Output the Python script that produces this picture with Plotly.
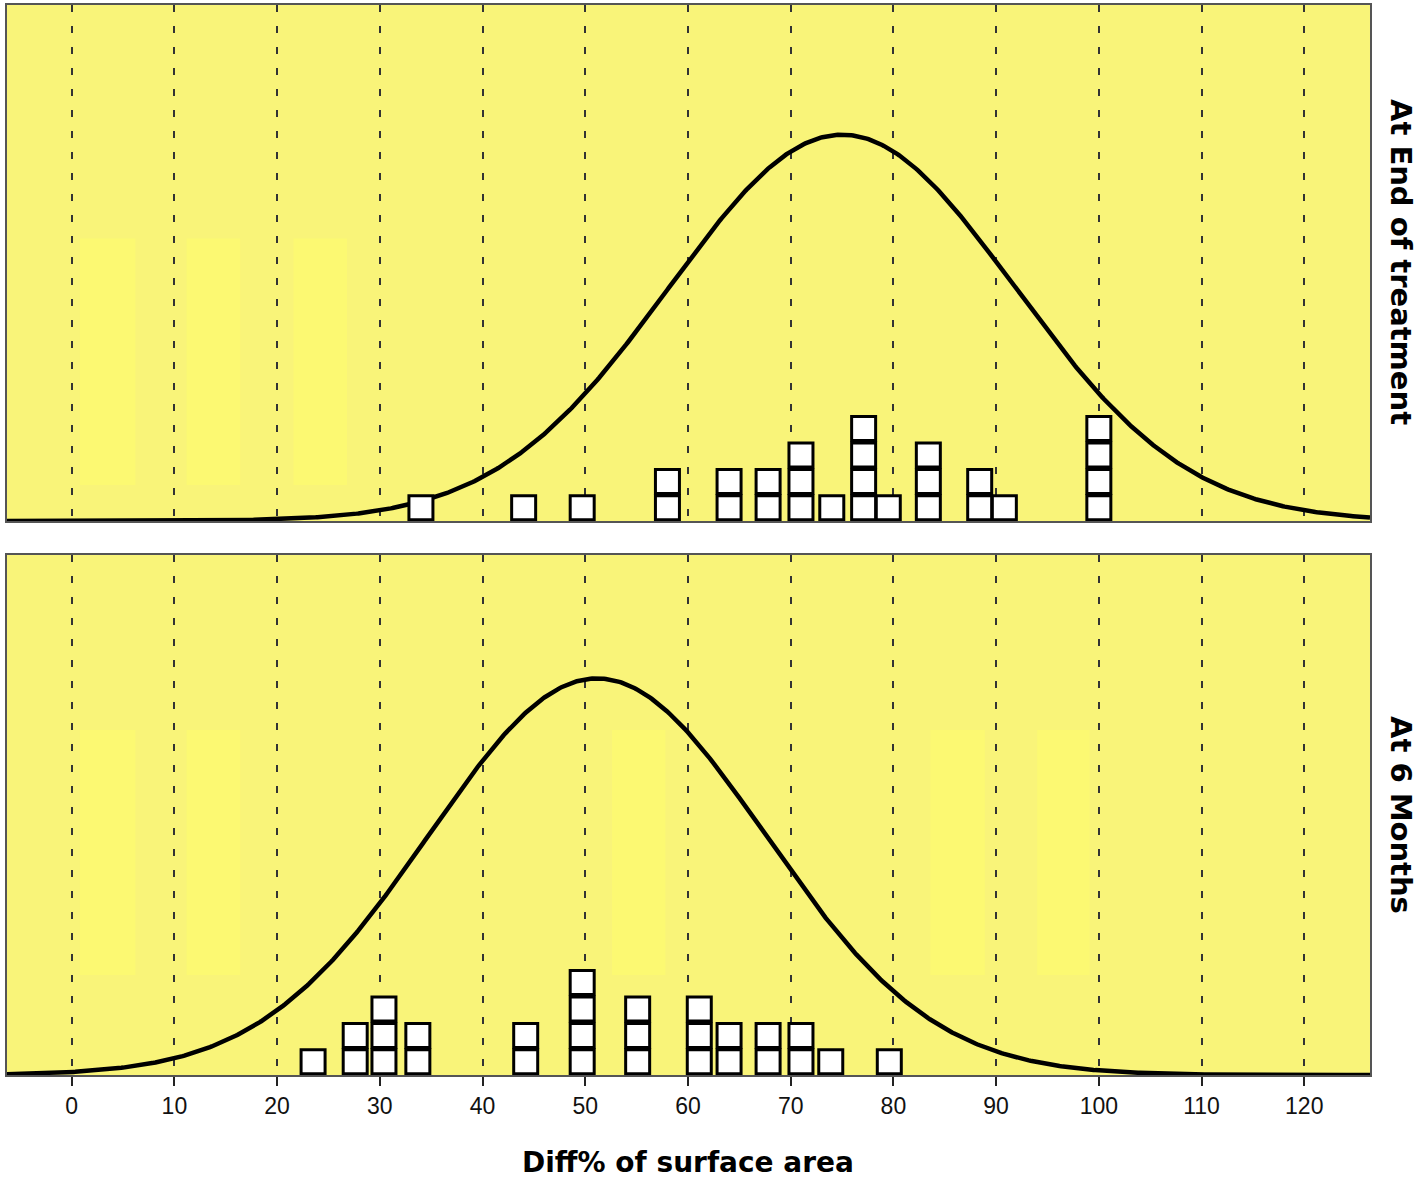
import numpy as np
import plotly.graph_objects as go

# ---------------- data ----------------
# Top panel: "At End of treatment" (value, stacked count)
end_values = [34, 44, 49.7, 58, 64, 67.8, 71, 74, 77.1, 79.5, 83.4, 88.4, 90.8, 100]
end_counts = [1, 1, 1, 2, 2, 2, 3, 1, 4, 1, 3, 2, 1, 4]

# Bottom panel: "At 6 Months"
m6_values = [23.5, 27.6, 30.4, 33.7, 44.2, 49.7, 55.1, 61.1, 64, 67.8, 71, 73.9, 79.6]
m6_counts = [1, 2, 3, 2, 2, 4, 3, 3, 2, 2, 2, 1, 1]

tick_vals = list(range(0, 130, 10))
panel_labels = ["At End of treatment", "At 6 Months"]
x_title = "Diff% of surface area"

# ---------------- style ----------------
BG = "#F9F479"
PATCH = "#FCF972"
FONT = "DejaVu Sans"
TICKFONT = "Liberation Sans"
CURVE_SCALE = 22.0
X_RANGE = [-6.3, 126.4]
Y_TOP = 19.55
Y_BOT = 19.7


def stack(values, counts):
    xs, ys = [], []
    for v, c in zip(values, counts):
        for k in range(c):
            xs.append(v)
            ys.append(k + 0.5)
    return xs, ys


def normal_curve(values, counts):
    data = np.repeat(np.array(values, float), counts)
    mu, sd, n = data.mean(), data.std(ddof=1), len(data)
    xx = np.linspace(X_RANGE[0], X_RANGE[1], 800)
    yy = n * CURVE_SCALE * np.exp(-0.5 * ((xx - mu) / sd) ** 2) / (sd * np.sqrt(2 * np.pi))
    return xx, yy


fig = go.Figure()

for vals, cnts, xa, ya in [(end_values, end_counts, "x", "y"), (m6_values, m6_counts, "x2", "y2")]:
    cx, cy = normal_curve(vals, cnts)
    fig.add_trace(go.Scatter(x=cx, y=cy, mode="lines", line=dict(color="black", width=4.5),
                             xaxis=xa, yaxis=ya, showlegend=False, hoverinfo="skip"))
    sx, sy = stack(vals, cnts)
    fig.add_trace(go.Scatter(x=sx, y=sy, mode="markers",
                             marker=dict(symbol="square", size=24, color="white",
                                         line=dict(color="black", width=3)),
                             xaxis=xa, yaxis=ya, showlegend=False, cliponaxis=False))

x_dom = [7 / 1418, 1370 / 1418]
top_dom = [1 - 521 / 1180, 1 - 5 / 1180]
bot_dom = [1 - 1075 / 1180, 1 - 555 / 1180]

common_x = dict(range=X_RANGE, domain=x_dom, tickvals=tick_vals, showgrid=True,
                gridcolor="#333333", griddash="7px,14px", gridwidth=1.5,
                showline=True, linecolor="#555555", linewidth=2, mirror=True,
                zeroline=False)
common_y = dict(showgrid=False, zeroline=False, showticklabels=False, ticks="",
                showline=True, linecolor="#555555", linewidth=2, mirror=True)

fig.update_layout(
    width=1418, height=1180,
    margin=dict(l=0, r=0, t=0, b=0),
    paper_bgcolor="white",
    plot_bgcolor=BG,
    xaxis=dict(**common_x, anchor="y", showticklabels=False, ticks=""),
    yaxis=dict(**common_y, range=[0, Y_TOP], domain=top_dom, anchor="x"),
    xaxis2=dict(**common_x, anchor="y2", ticks="outside", ticklen=9, tickwidth=2,
                tickcolor="#222", tickfont=dict(family=TICKFONT, size=23, color="#111")),
    yaxis2=dict(**common_y, range=[0, Y_BOT], domain=bot_dom, anchor="x2"),
)

# faint lighter patches visible in the background of the original
patches = [
    ("x", "y", [(0.8, 6.2), (11.2, 16.4), (21.6, 26.8)], (1.36, 10.7)),
    ("x2", "y2", [(0.8, 6.2), (11.2, 16.4), (52.6, 57.8), (83.6, 88.9), (94.0, 99.1)], (3.79, 13.07)),
]
for xr, yr, xs_, (y0, y1) in patches:
    for (x0, x1) in xs_:
        fig.add_shape(type="rect", xref=xr, yref=yr, x0=x0, x1=x1, y0=y0, y1=y1,
                      fillcolor=PATCH, line=dict(width=0), layer="below")

fig.add_annotation(text=x_title, xref="paper", yref="paper", x=688 / 1418, y=1 - 1162 / 1180,
                   showarrow=False, xanchor="center", yanchor="middle",
                   font=dict(family=FONT, size=28, color="black", weight="bold"))
for label, yc in zip(panel_labels, [1 - 262 / 1180, 1 - 815 / 1180]):
    fig.add_annotation(text=label, xref="paper", yref="paper", x=1401 / 1418, y=yc,
                       showarrow=False, textangle=90, xanchor="center", yanchor="middle",
                       font=dict(family=FONT, size=29, color="black", weight="bold"))

fig.write_html("out.html", config={"displayModeBar": False},
               post_script="document.body.style.margin='0';document.body.style.overflow='hidden';")
